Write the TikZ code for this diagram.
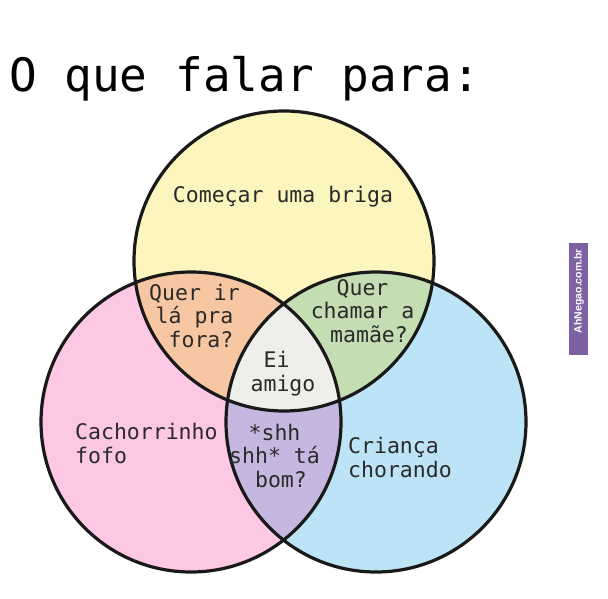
\documentclass[tikz,border=0pt]{standalone}
\usepackage{fontspec}
\setmonofont{DejaVu Sans Mono}
\newfontfamily\wmfont{Liberation Sans}
\usetikzlibrary{positioning}
\definecolor{yellowfill}{HTML}{FDF5BE}
\definecolor{pinkfill}{HTML}{FCC8E4}
\definecolor{bluefill}{HTML}{BCE3F6}
\definecolor{orangefill}{HTML}{F7C7A4}
\definecolor{greenfill}{HTML}{C4DDB2}
\definecolor{purplefill}{HTML}{C6B7E0}
\definecolor{grayfill}{HTML}{EEEEEA}
\definecolor{txtgray}{HTML}{2A2A2A}
\definecolor{wmpurple}{HTML}{7D62A3}
\newcommand{\trail}{\phantom{x}}

\begin{document}
\begin{tikzpicture}[x=1pt, y=-1pt,
  ring/.style={line width=3.2pt, draw=black!90},
  lbl/.style={font=\ttfamily\fontsize{21.5}{23.5}\selectfont, text=txtgray, inner sep=0pt, anchor=base}]
  \useasboundingbox (0,0) rectangle (608,599);
  \coordinate (Ctop) at (284,261);
  \coordinate (Cleft) at (191,422);
  \coordinate (Cright) at (376,422);
  \fill[pinkfill] (Cleft) circle[radius=150];
  \fill[bluefill] (Cright) circle[radius=150];
  \fill[yellowfill] (Ctop) circle[radius=150];
  \begin{scope}
    \clip (Cleft) circle[radius=150];
    \fill[purplefill] (Cright) circle[radius=150];
  \end{scope}
  \begin{scope}
    \clip (Ctop) circle[radius=150];
    \fill[orangefill] (Cleft) circle[radius=150];
    \fill[greenfill] (Cright) circle[radius=150];
    \clip (Cleft) circle[radius=150];
    \fill[grayfill] (Cright) circle[radius=150];
  \end{scope}
  \draw[ring] (Ctop) circle[radius=150];
  \draw[ring] (Cleft) circle[radius=150];
  \draw[ring] (Cright) circle[radius=150];

  \node[font=\ttfamily\fontsize{46}{46}\selectfont, anchor=base west, inner sep=0pt] (title) at (9,92) {O que falar para:};

  \node[lbl] (briga) at (283,202) {Começar uma briga};
  \node[lbl, align=center] (lafora) at (201,347) {Quer ir\trail\\lá pra\trail\\fora?};
  \node[lbl, align=center] (mamae) at (369,342) {Quer\trail\\chamar a\trail\\mamãe?};
  \node[lbl, align=center] (amigo) at (283,391) {Ei\trail\\amigo};
  \node[lbl, align=center] (shh) at (281,487) {*shh\trail\\shh* tá\trail\\bom?};
  \node[lbl, align=left, anchor=base west] (cachorro) at (75,463) {Cachorrinho\\fofo};
  \node[lbl, align=left, anchor=base west] (crianca) at (348,477) {Criança\\chorando};

  \node[fill=wmpurple, minimum width=112pt, minimum height=19pt, rotate=90, inner sep=0pt] (wmbox) at (578.5,299) {};
  \node[rotate=90, text=white, font=\wmfont\bfseries\fontsize{10.5}{10.5}\selectfont, inner sep=0pt] (wmtext) at (579,291) {AhNegao.com.br};
\end{tikzpicture}
\end{document}
